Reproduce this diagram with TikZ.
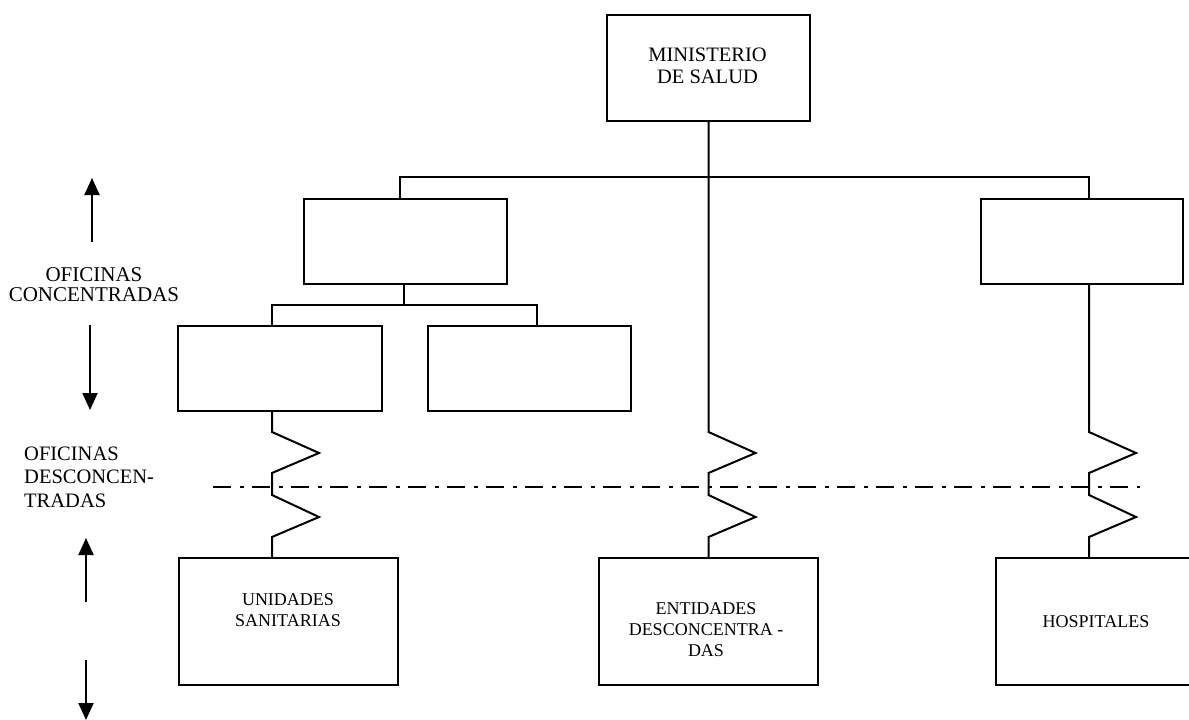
\documentclass[tikz,border=0pt]{standalone}
\usepackage{fontspec}
\setmainfont{Liberation Serif}
\usetikzlibrary{arrows.meta}
\begin{document}
\begin{tikzpicture}[x=1pt,y=-1pt,
  box/.style={draw,line width=2pt,inner sep=0pt},
  txt/.style={inner sep=0pt,align=center},
  conn/.style={line width=2pt},
  arr/.style={line width=2pt,-{Triangle[width=15pt,length=17pt]}},
  dashdot/.style={line width=2.4pt,dash pattern=on 18pt off 9pt on 3.5pt off 8.5pt},
  zz/.style={to path={-- (\tikztostart |- zzy) -- ++(47,21) -- ++(-47,20)
      -- ++(0,22) -- ++(47,22) -- ++(-47,20) -- (\tikztotarget)}}]
\useasboundingbox (0,0) rectangle (1189,720);

% boxes
\node[box,minimum width=203pt,minimum height=106pt] (min) at (708.5,68) {};
\node[box,minimum width=203pt,minimum height=85pt] (ul) at (405.5,241.5) {};
\node[box,minimum width=202pt,minimum height=85pt] (ur) at (1082,241.5) {};
\node[box,minimum width=204pt,minimum height=85pt] (A) at (280,368.5) {};
\node[box,minimum width=203pt,minimum height=85pt] (B) at (529.5,368.5) {};
\node[box,minimum width=219pt,minimum height=127pt] (uni) at (288.5,621.5) {};
\node[box,minimum width=219pt,minimum height=127pt] (ent) at (708.5,621.5) {};
\node[box,minimum width=219pt,minimum height=127pt] (hos) at (1105.5,621.5) {};

% box texts
\node[txt,font=\fontsize{20.5}{22}\selectfont] (tmin) at (707.5,65.5) {MINISTERIO\\DE SALUD};
\node[txt,font=\fontsize{18}{21}\selectfont] (tuni) at (288,610) {UNIDADES\\SANITARIAS};
\node[txt,font=\fontsize{18}{21}\selectfont] (tent) at (706,629.5) {ENTIDADES\\DESCONCENTRA -\\DAS};
\node[txt,font=\fontsize{18}{21}\selectfont] (thos) at (1096,621.5) {HOSPITALES};

% side labels
\node[txt,font=\fontsize{21}{20}\selectfont] (lconc) at (94,284.5) {OFICINAS\\CONCENTRADAS};
\node[txt,align=left,anchor=west,font=\fontsize{20.5}{23.5}\selectfont] (ldesc) at (24,477) {OFICINAS\\DESCONCEN-\\TRADAS};

% helper coordinates
\coordinate (zzy) at (0,432);
\coordinate (busL) at (400,177);
\coordinate (busR) at (1089,177);
\coordinate (ulx) at (404,305);
\coordinate (aX) at (272,305);
\coordinate (bX) at (537,305);
\coordinate (sA) at (A.south -| aX);
\coordinate (eA) at (uni.north -| aX);
\coordinate (sR) at (ur.south -| busR);
\coordinate (eR) at (hos.north -| busR);

% tree connectors
\draw[conn] (ul.north -| busL) |- (busR) -- (busR |- ur.north);
\draw[conn] (ul.south -| ulx) -- (ulx);
\draw[conn] (A.north -| aX) -- (aX) -- (bX) -- (B.north -| bX);

% decentralised links
\draw[conn] (sA) to[zz] (eA);
\draw[conn] (min.south) to[zz] (ent.north);
\draw[conn] (sR) to[zz] (eR);

% boundary line
\coordinate (dl) at (213,487);
\coordinate (dr) at (1140,487);
\draw[dashdot] (dl) -- (dr);

% side arrows
\coordinate (a1s) at (92,242);  \coordinate (a1e) at (92,178);
\coordinate (a2s) at (90,325);  \coordinate (a2e) at (90,410);
\coordinate (a3s) at (86,602);  \coordinate (a3e) at (86,538);
\coordinate (a4s) at (86,660);  \coordinate (a4e) at (86,720);
\draw[arr] (a1s) -- (a1e);
\draw[arr] (a2s) -- (a2e);
\draw[arr] (a3s) -- (a3e);
\draw[arr] (a4s) -- (a4e);
\end{tikzpicture}
\end{document}
